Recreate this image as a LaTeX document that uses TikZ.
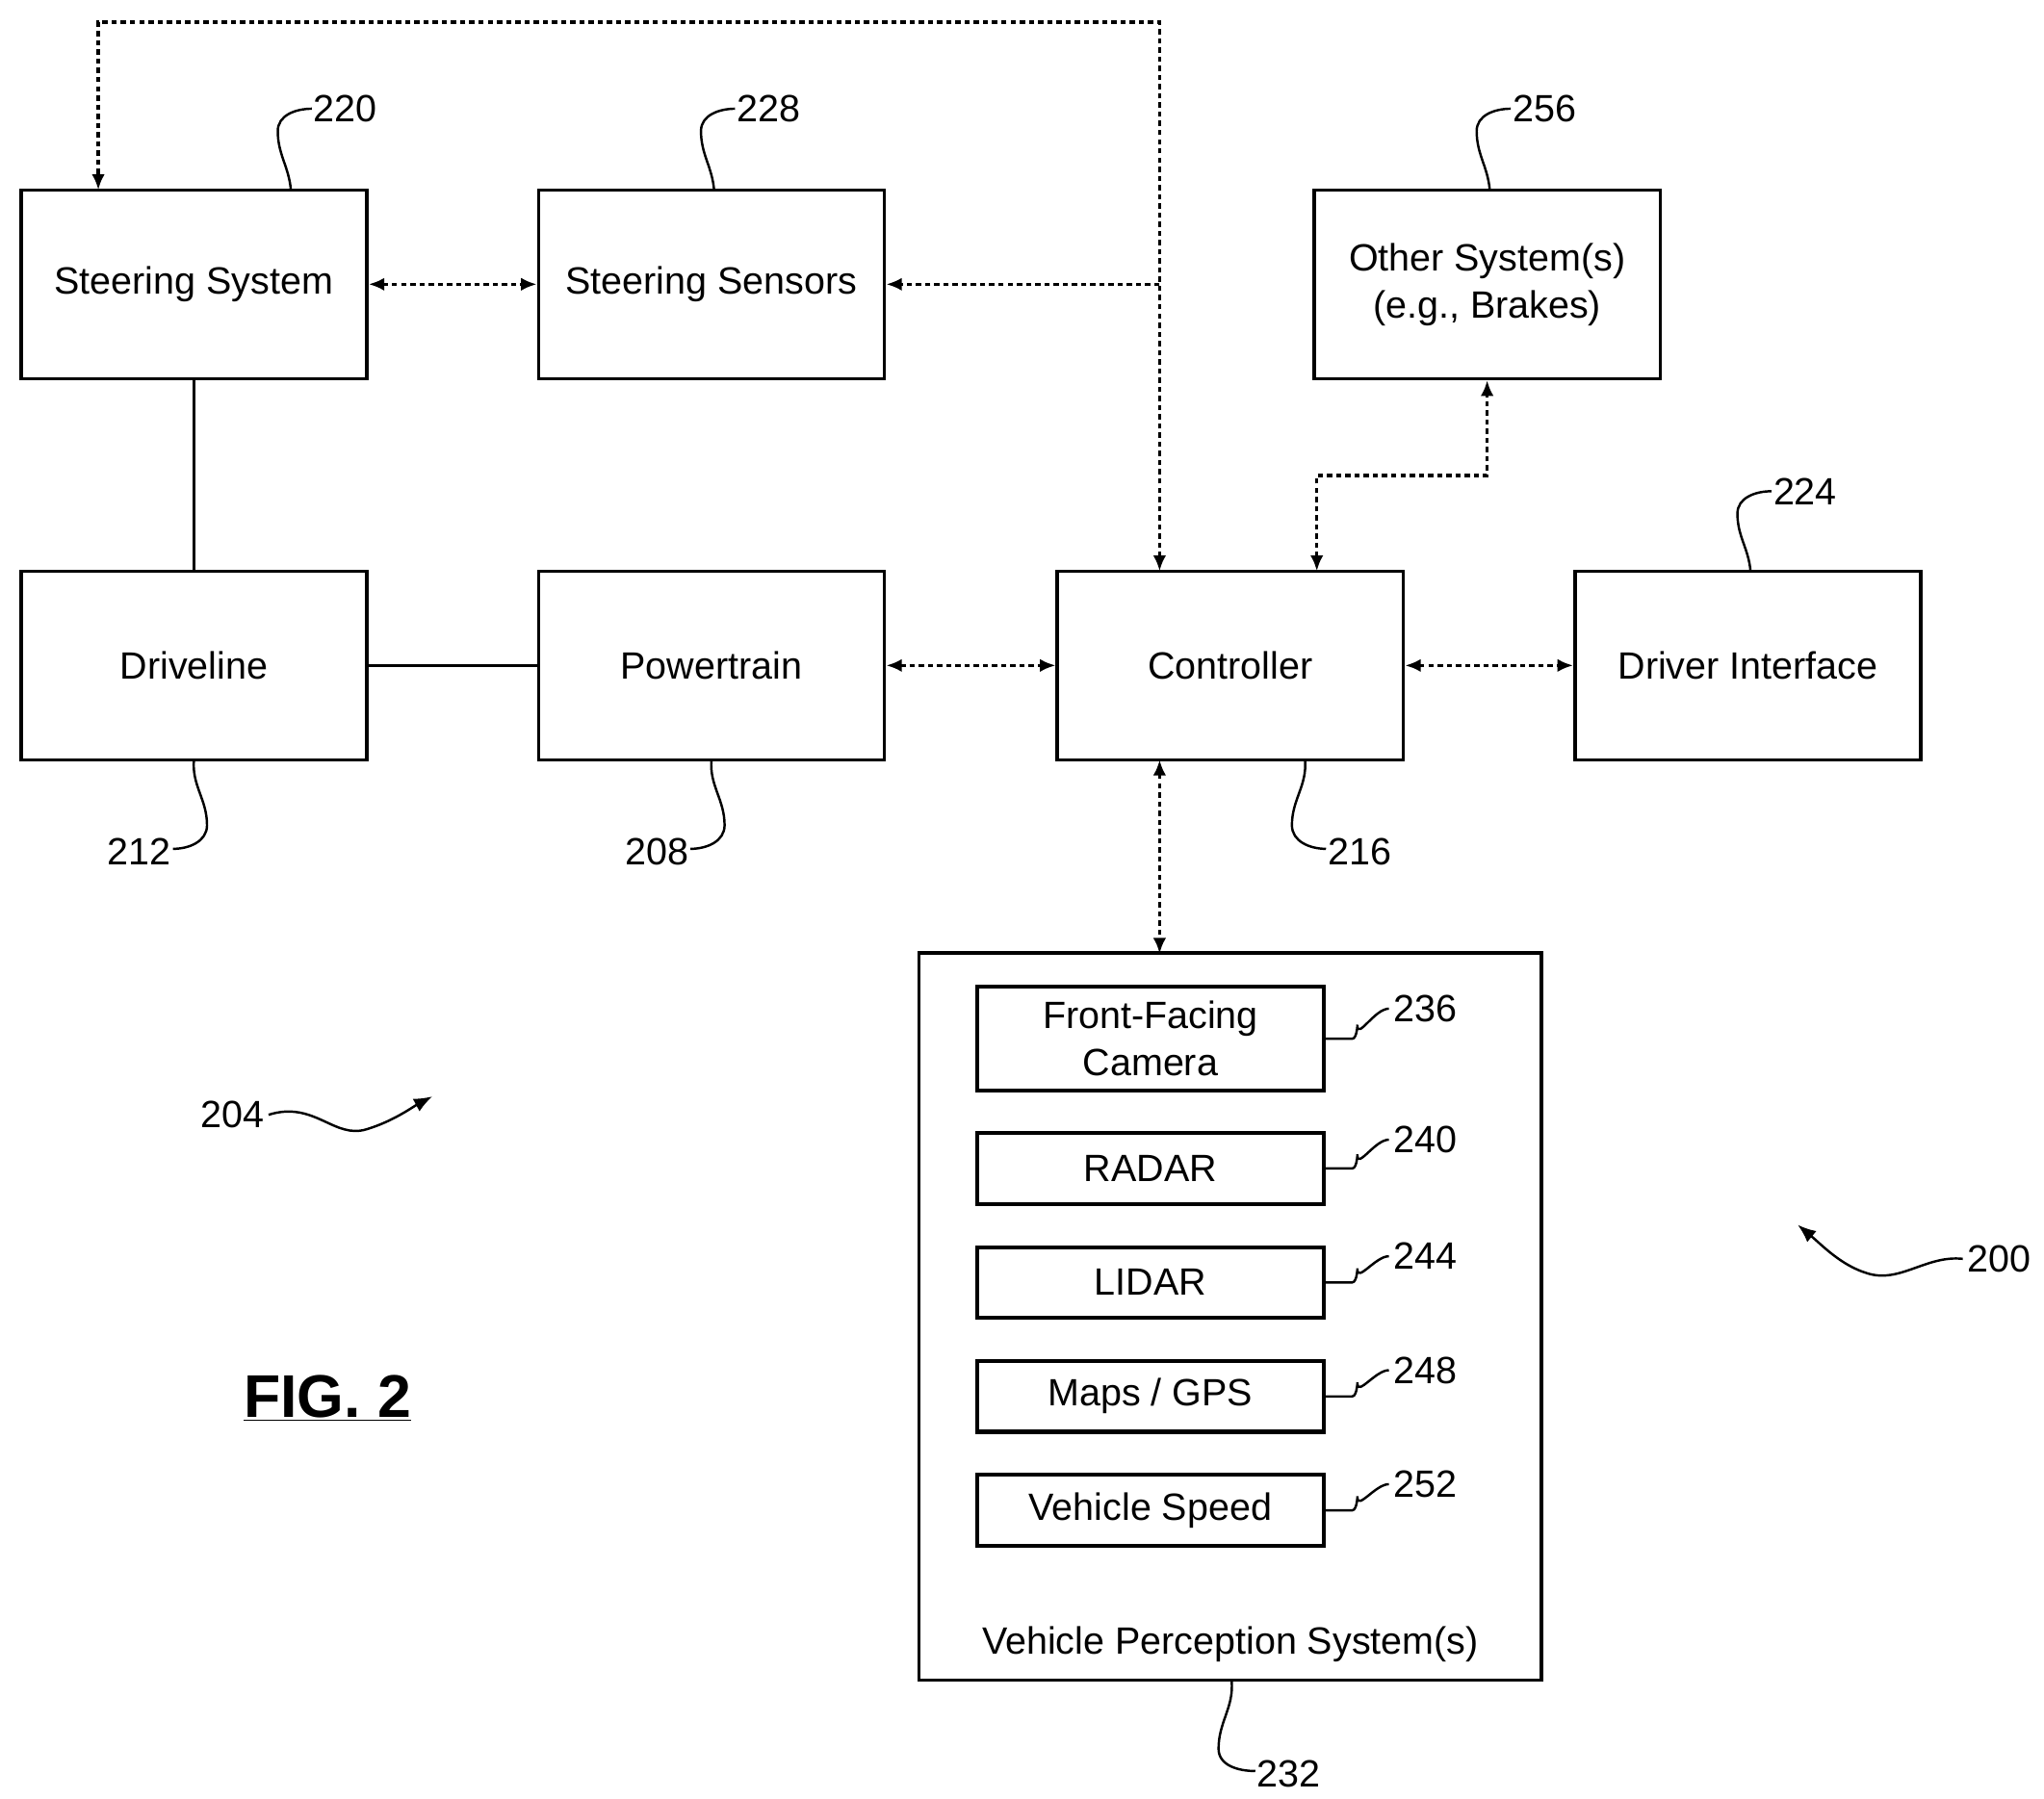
\documentclass[tikz,border=0pt]{standalone}
\usepackage{fontspec}
\setmainfont{Liberation Sans}
\usetikzlibrary{arrows.meta,calc}
\begin{document}
\begin{tikzpicture}[x=1pt,y=1pt,yscale=-1,line cap=butt,
    font=\fontsize{29}{36}\selectfont,
    blk/.style={draw,line width=2.6,inner sep=0,align=center},
    big/.style={blk,minimum width=264,minimum height=144},
    sml/.style={blk,minimum width=265,minimum height=54,line width=3},
    dots/.style={line width=2.6,dash pattern=on 4pt off 3pt},
    tip/.style={-{Latex[length=12,width=10]}},
    tips/.style={{Latex[length=12,width=10]}-{Latex[length=12,width=10]}},
    lead/.style={line width=1.8}]
  \useasboundingbox (0,0) rectangle (1560,1373);

  % Boxes
  \node[big] (steer) at (148,217) {Steering System};
  \node[big] (sens) at (543,217) {Steering Sensors};
  \node[big] (other) at (1135,217) {Other System(s)\\(e.g., Brakes)};
  \node[big] (drive) at (148,508) {Driveline};
  \node[big] (power) at (543,508) {Powertrain};
  \node[big] (ctrl) at (939,508) {Controller};
  \node[big] (drv) at (1334,508) {Driver Interface};
  \node[blk,minimum width=475,minimum height=555] (vps) at (939,1005) {};
  \node[anchor=south] (vpsl) at (939,1272) {Vehicle Perception System(s)};
  \node[sml,minimum height=79] (cam) at (878,793) {Front-Facing\\Camera};
  \node[sml] (radar) at (878,892) {RADAR};
  \node[sml] (lidar) at (878,979) {LIDAR};
  \node[sml] (maps) at (878,1066) {Maps / GPS};
  \node[sml] (speed) at (878,1153) {Vehicle Speed};

  % Solid links
  \draw[line width=2.6] (steer) -- (drive);
  \draw[line width=2.6] (drive) -- (power);

  % Dotted links
  \coordinate (cT) at (885,436);
  \coordinate (cS) at (885,217);
  \draw[dots,tips] (cT) -- (885,17) -- (75,17) -- (75,145);
  \draw[dots,tip] (cS) -- (sens.east);
  \draw[dots,tips] (steer) -- (sens);
  \draw[dots,tips] (1005,436) -- (1005,363) -- (1135,363) -- (other.south);
  \draw[dots,tips] (power) -- (ctrl);
  \draw[dots,tips] (ctrl) -- (drv);
  \draw[dots,tips] (885,580) -- (885,728);

  % Reference labels
  \draw[lead] (222,145) to[out=-95,in=90] (212,100) to[out=-90,in=180] (238,83);
  \node[anchor=west] (n220) at (236,83) {220};
  \draw[lead] (545,145) to[out=-95,in=90] (535,100) to[out=-90,in=180] (561,83);
  \node[anchor=west] (n228) at (559,83) {228};
  \draw[lead] (1137,145) to[out=-95,in=90] (1127,100) to[out=-90,in=180] (1153,83);
  \node[anchor=west] (n256) at (1151,83) {256};
  \draw[lead] (1336,436) to[out=-95,in=90] (1326,392) to[out=-90,in=180] (1352,375);
  \node[anchor=west] (n224) at (1350,375) {224};
  \draw[lead] (148,580) to[out=95,in=-90] (158,630) to[out=90,in=0] (132,648);
  \node[anchor=east] (n212) at (134,650) {212};
  \draw[lead] (543,580) to[out=95,in=-90] (553,630) to[out=90,in=0] (527,648);
  \node[anchor=east] (n208) at (529,650) {208};
  \draw[lead] (996,580) to[out=85,in=-90] (986,630) to[out=90,in=180] (1012,648);
  \node[anchor=west] (n216) at (1010,650) {216};
  \draw[lead] (940,1283) to[out=85,in=-90] (930,1335) to[out=90,in=180] (958,1352);
  \node[anchor=west] (n232) at (956,1354) {232};
  \foreach \b/\n/\y in {cam/236/770,radar/240/870,lidar/244/959,maps/248/1046,speed/252/1133}{
    \draw[lead] (\b.east) -- ++(20,0) to[out=0,in=-90] ($(\b.east)+(24,-10)$) to[out=90,in=180] (1060,\y);
    \node[anchor=west] at (1060,\y) {\n};
  }

  % Figure pointers
  \node[anchor=east] (n204) at (205,851) {204};
  \draw[lead,-{Latex[length=14,width=11]}] (n204.east) .. controls (240,840) and (255,870) .. (280,862) .. controls (300,856) and (315,845) .. (330,837);
  \node[anchor=west] (n200) at (1498,961) {200};
  \draw[lead,-{Latex[length=14,width=11]}] (n200.west) .. controls (1470,958) and (1450,980) .. (1425,972) .. controls (1405,966) and (1390,950) .. (1372,935);

  \node[font=\fontsize{46}{50}\selectfont\bfseries] (fig) at (250,1067) {\underline{FIG. 2}};
\end{tikzpicture}
\end{document}
